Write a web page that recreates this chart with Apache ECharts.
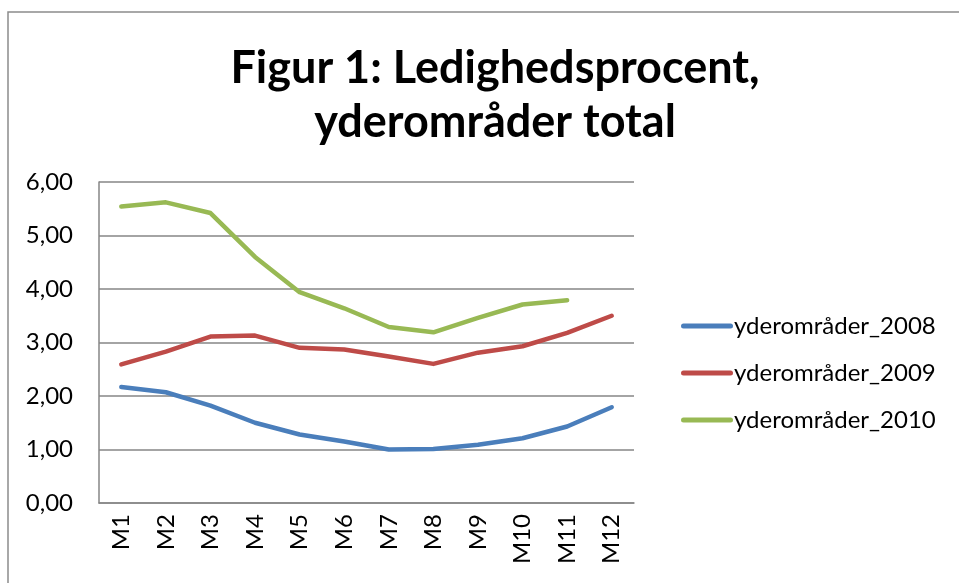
<!DOCTYPE html>
<html>
<head>
<meta charset="utf-8">
<script src="https://cdn.jsdelivr.net/npm/echarts@6/dist/echarts.min.js"></script>
<style>
  html, body { margin: 0; padding: 0; background: #fff; }
  #chart { width: 959px; height: 583px; }
</style>
</head>
<body>
<div id="chart"></div>
<script>
const months   = ['M1','M2','M3','M4','M5','M6','M7','M8','M9','M10','M11','M12'];
const names    = ['yderområder_2008', 'yderområder_2009', 'yderområder_2010'];
const y2008    = [2.17, 2.07, 1.82, 1.50, 1.28, 1.15, 1.00, 1.01, 1.09, 1.21, 1.43, 1.79];
const y2009    = [2.59, 2.83, 3.11, 3.13, 2.90, 2.87, 2.74, 2.60, 2.81, 2.93, 3.18, 3.50];
const y2010    = [5.54, 5.62, 5.42, 4.60, 3.94, 3.64, 3.29, 3.19, 3.46, 3.71, 3.79, null];
const colors   = ['#4a7ebb', '#be4b48', '#98b954'];

const font = 'Lato, "Open Sans", sans-serif';
const chart = echarts.init(document.getElementById('chart'));

const mkSeries = (name, data, i) => ({
    name: name,
    type: 'line',
    data: data,
    symbol: 'none',
    lineStyle: { width: 4.5, color: colors[i], cap: 'round', join: 'round' },
    itemStyle: { color: colors[i] }
});

const option = {
    animation: false,
    graphic: [{
        type: 'rect',
        shape: { x: 8, y: 12, width: 1000, height: 700 },
        style: { fill: 'none', stroke: '#8c8c8c', lineWidth: 1.5 }
    }],
    title: {
        text: 'Figur 1: Ledighedsprocent,\nyderområder total',
        left: 490,
        top: 36,
        textAlign: 'center',
        textStyle: { fontFamily: font, fontWeight: 'bold', fontSize: 45, lineHeight: 54, color: '#000' }
    },
    legend: {
        orient: 'vertical',
        left: 676,
        top: 308,
        itemGap: 21,
        itemWidth: 52,
        itemHeight: 5,
        icon: 'path://M2.5,0H49.5A2.5,2.5 0 0 1 49.5,5H2.5A2.5,2.5 0 0 1 2.5,0Z',
        textStyle: { fontFamily: font, fontSize: 24, color: '#000', lineHeight: 26, padding: [0, 0, 0, -4] },
        data: names
    },
    grid: { left: 99, right: 325, top: 182, bottom: 80, containLabel: false },
    xAxis: {
        type: 'category',
        data: months,
        boundaryGap: true,
        axisLine: { lineStyle: { color: '#868686', width: 1.5 } },
        axisTick: { show: false },
        axisLabel: { rotate: 90, margin: 11, fontFamily: font, fontSize: 24, color: '#000' }
    },
    yAxis: {
        type: 'value',
        min: 0,
        max: 6,
        interval: 1,
        axisLine: { show: true, lineStyle: { color: '#868686', width: 1.5 } },
        axisTick: { show: false },
        splitLine: { lineStyle: { color: '#868686', width: 1.5 } },
        axisLabel: {
            margin: 26,
            fontFamily: font,
            fontSize: 24,
            color: '#000',
            formatter: v => v.toFixed(2).replace('.', ',')
        }
    },
    series: [
        mkSeries(names[0], y2008, 0),
        mkSeries(names[1], y2009, 1),
        mkSeries(names[2], y2010, 2)
    ]
};
chart.setOption(option);
</script>
</body>
</html>
